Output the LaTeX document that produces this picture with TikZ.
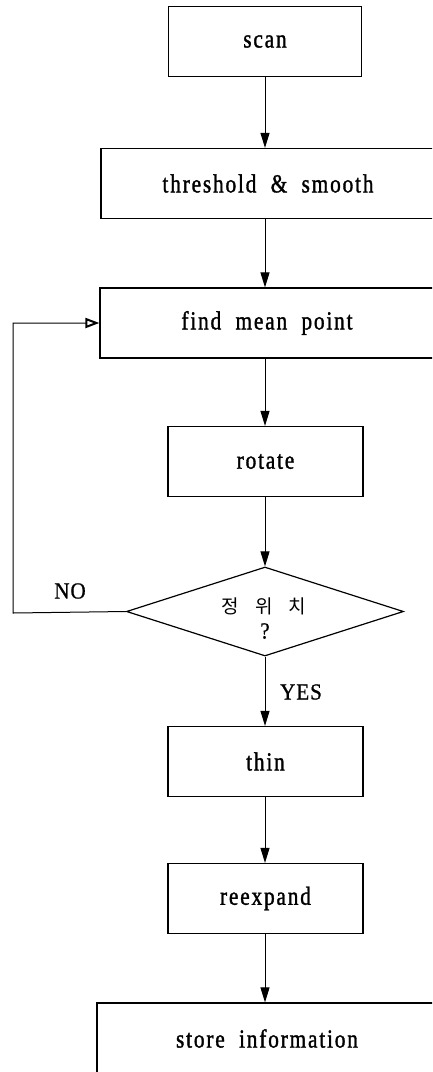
\documentclass[tikz,border=0pt]{standalone}
\usepackage{fontspec}
\setmainfont{Liberation Serif}[FakeStretch=0.82, LetterSpace=7, FakeBold=1.3]
\newfontfamily\lblfont{Liberation Serif}[FakeStretch=0.92, LetterSpace=4, FakeBold=0.8]
\newfontfamily\kr{Noto Sans CJK KR}
\usetikzlibrary{arrows.meta,shapes.geometric}
\begin{document}
\begin{tikzpicture}[x=1pt,y=-1pt,
  box/.style={draw, line width=1.2pt, minimum height=70pt, inner sep=0pt, font=\fontsize{26}{30}\selectfont},
  lbl/.style={font=\lblfont\fontsize{23}{26}\selectfont, inner sep=0pt},
  arr/.style={-{Triangle[length=15pt,width=9pt]}, line width=1pt},
  openarr/.style={-{Triangle[open,length=14pt,width=10pt,line width=2pt]}, line width=1pt}]
\useasboundingbox (0,0) rectangle (432,1072);
\clip (0,0) rectangle (432,1072);
\node[box, minimum width=193pt] (scan) at (265,41.5) {scan};
\node[box, minimum width=334pt] (thr) at (268,183.5) {threshold \ \& \ smooth};
\node[box, minimum width=334pt] (find) at (267,323) {find \ mean \ point};
\node[box, minimum width=195pt] (rot) at (265.5,461.5) {rotate};
\node[draw, line width=1.2pt, shape=diamond, minimum width=277pt, minimum height=89pt, inner sep=0pt] (dec) at (265,611.5) {};
\node[inner sep=0pt, font=\kr\fontsize{19}{22}\selectfont] (q1) at (264,606) {정\hspace{16pt}위\hspace{16pt}치};
\node[lbl] (q2) at (265,631) {?};
\node[lbl] (no) at (70,591) {NO};
\node[lbl] (yes) at (301,692) {YES};
\node[box, minimum width=195pt] (thin) at (265.5,761.5) {thin};
\node[box, minimum width=195pt] (reex) at (265.5,898.5) {reexpand};
\node[box, minimum width=340pt, minimum height=71pt] (store) at (267,1038.5) {store \ information};
\coordinate (lp) at (13,613);
\coordinate (lq) at (13,323);
\draw[arr] (scan.south) -- (scan.south |- thr.north);
\draw[arr] (thr.south -| scan.south) -- (scan.south |- find.north);
\draw[arr] (find.south -| scan.south) -- (rot.north -| scan.south);
\draw[arr] (rot.south -| scan.south) -- (dec.north);
\draw[arr] (dec.south) -- (thin.north -| dec.south);
\draw[arr] (thin.south -| dec.south) -- (reex.north -| dec.south);
\draw[arr] (reex.south -| dec.south) -- (store.north -| dec.south);
\draw[openarr] (dec.west) -- (lp) -- (lq) -- (find.west);
\end{tikzpicture}
\end{document}
